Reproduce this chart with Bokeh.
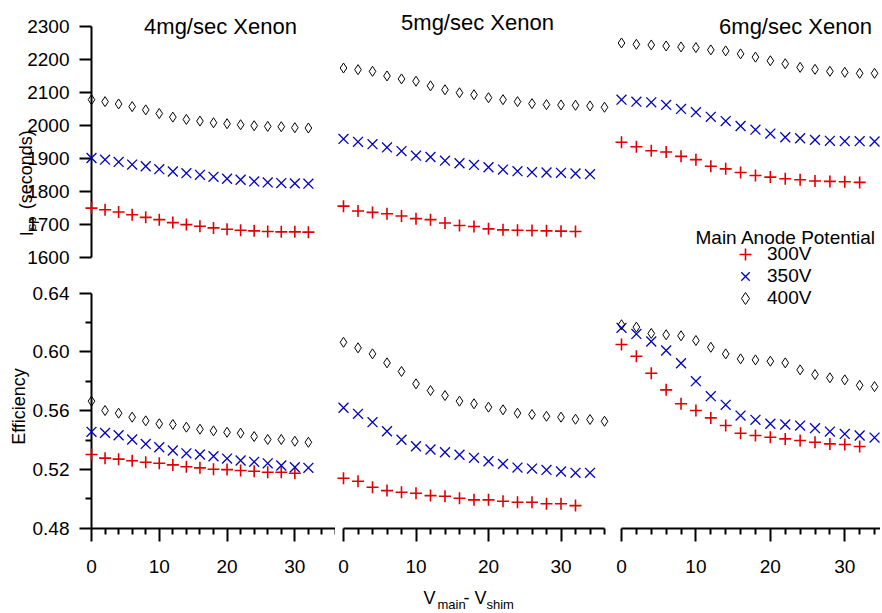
import math
from bokeh.plotting import figure
from bokeh.layouts import column, row
from bokeh.models import Range1d, FixedTicker, NumeralTickFormatter, Label, Legend, LegendItem
from bokeh.core.properties import value
from bokeh.embed import file_html
from bokeh.resources import INLINE

# ---------------- data ----------------
titles = ["4mg/sec Xenon", "5mg/sec Xenon", "6mg/sec Xenon"]
series_labels = ["300V", "350V", "400V"]
legend_title = "Main Anode Potential"

x_0_30 = [0, 2, 4, 6, 8, 10, 12, 14, 16, 18, 20, 22, 24, 26, 28, 30]
x_0_32 = [0, 2, 4, 6, 8, 10, 12, 14, 16, 18, 20, 22, 24, 26, 28, 30, 32]
x_0_34 = [0, 2, 4, 6, 8, 10, 12, 14, 16, 18, 20, 22, 24, 26, 28, 30, 32, 34]
x_0_36 = [0, 2, 4, 6, 8, 10, 12, 14, 16, 18, 20, 22, 24, 26, 28, 30, 32, 34, 36]

# 4 mg/sec
isp4_300 = [1749, 1744, 1737, 1729, 1721, 1714, 1705, 1699, 1694, 1689, 1685, 1682, 1680, 1678, 1677, 1677, 1676]
isp4_350 = [1901, 1896, 1889, 1881, 1876, 1867, 1860, 1855, 1850, 1844, 1838, 1835, 1830, 1827, 1825, 1824, 1823]
isp4_400 = [2078, 2072, 2065, 2057, 2047, 2036, 2025, 2018, 2013, 2008, 2005, 2002, 1999, 1997, 1996, 1993, 1992]
eff4_300 = [0.5302, 0.5277, 0.5270, 0.5259, 0.5249, 0.5242, 0.5231, 0.5218, 0.5211, 0.5201, 0.5199, 0.5193, 0.5188, 0.5181, 0.5181, 0.5174]
eff4_350 = [0.5456, 0.5449, 0.5433, 0.5404, 0.5374, 0.5351, 0.5329, 0.5310, 0.5302, 0.5290, 0.5274, 0.5261, 0.5252, 0.5242, 0.5227, 0.5215, 0.5211]
eff4_400 = [0.5665, 0.5601, 0.5583, 0.5556, 0.5531, 0.5511, 0.5506, 0.5488, 0.5474, 0.5463, 0.5453, 0.5447, 0.5424, 0.5404, 0.5404, 0.5392, 0.5385]

# 5 mg/sec
isp5_300 = [1755, 1740, 1736, 1732, 1725, 1717, 1714, 1704, 1696, 1693, 1686, 1683, 1682, 1681, 1680, 1679, 1678]
isp5_350 = [1959, 1950, 1943, 1933, 1922, 1908, 1904, 1893, 1885, 1880, 1873, 1866, 1861, 1858, 1857, 1856, 1854, 1852]
isp5_400 = [2174, 2169, 2164, 2150, 2141, 2134, 2120, 2108, 2099, 2093, 2084, 2078, 2072, 2066, 2063, 2062, 2061, 2059, 2055]
eff5_300 = [0.5140, 0.5120, 0.5079, 0.5056, 0.5045, 0.5038, 0.5022, 0.5018, 0.5004, 0.4993, 0.4993, 0.4984, 0.4977, 0.4977, 0.4966, 0.4966, 0.4954]
eff5_350 = [0.5620, 0.5579, 0.5522, 0.5460, 0.5402, 0.5358, 0.5336, 0.5317, 0.5300, 0.5279, 0.5256, 0.5238, 0.5213, 0.5206, 0.5197, 0.5186, 0.5177, 0.5177]
eff5_400 = [0.6066, 0.6028, 0.5987, 0.5926, 0.5867, 0.5783, 0.5737, 0.5703, 0.5665, 0.5647, 0.5624, 0.5606, 0.5583, 0.5574, 0.5562, 0.5556, 0.5542, 0.5540, 0.5528]

# 6 mg/sec
isp6_300 = [1949, 1935, 1923, 1919, 1906, 1896, 1876, 1868, 1857, 1848, 1843, 1838, 1835, 1831, 1830, 1829, 1827]
isp6_350 = [2078, 2072, 2070, 2062, 2050, 2040, 2026, 2013, 1998, 1987, 1975, 1964, 1961, 1956, 1953, 1952, 1952, 1951]
isp6_400 = [2250, 2246, 2244, 2241, 2238, 2236, 2229, 2226, 2217, 2207, 2196, 2187, 2176, 2170, 2164, 2161, 2158, 2158]
eff6_300 = [0.6051, 0.5971, 0.5855, 0.5742, 0.5647, 0.5601, 0.5551, 0.5499, 0.5447, 0.5431, 0.5419, 0.5408, 0.5397, 0.5385, 0.5374, 0.5370, 0.5356]
eff6_350 = [0.6164, 0.6123, 0.6071, 0.6010, 0.5923, 0.5801, 0.5699, 0.5640, 0.5567, 0.5538, 0.5511, 0.5506, 0.5499, 0.5481, 0.5458, 0.5442, 0.5431, 0.5417]
eff6_400 = [0.6185, 0.6169, 0.6126, 0.6117, 0.6110, 0.6078, 0.6032, 0.5987, 0.5953, 0.5946, 0.5937, 0.5926, 0.5878, 0.5846, 0.5824, 0.5810, 0.5773, 0.5764]

isp_ticks = [1600, 1700, 1800, 1900, 2000, 2100, 2200, 2300]
eff_ticks = [0.48, 0.52, 0.56, 0.60, 0.64]
eff_minor = [0.50, 0.54, 0.58, 0.62]
x_ticks = [0, 10, 20, 30]
x_minor = [2, 4, 6, 8, 12, 14, 16, 18, 22, 24, 26, 28, 32, 34, 36]

top_sets = [
    [(x_0_32, isp4_300), (x_0_32, isp4_350), (x_0_32, isp4_400)],
    [(x_0_32, isp5_300), (x_0_34, isp5_350), (x_0_36, isp5_400)],
    [(x_0_32, isp6_300), (x_0_34, isp6_350), (x_0_34, isp6_400)],
]
bot_sets = [
    [(x_0_30, eff4_300), (x_0_32, eff4_350), (x_0_32, eff4_400)],
    [(x_0_32, eff5_300), (x_0_34, eff5_350), (x_0_36, eff5_400)],
    [(x_0_32, eff6_300), (x_0_34, eff6_350), (x_0_34, eff6_400)],
]

# ---------------- style / layout ----------------
FONT = "Liberation Sans"
RED = "#e00000"
BLUE = "#0000c0"
BLACK = "#000000"

widths = [335, 277, 268]
bl = [91, 8, 9]
br = [0, 8, 0]
xranges = [(0, 36), (0, 36), (0, 34.8)]
# frames are stretched over the gaps (axes limited with bounds);
# the split between upper and lower figure differs per column
top_h = [284, 284, 314]
top_ranges = [(1517.2, 2378.9), (1517.2, 2378.9), (1426.1, 2378.9)]
bot_h = [328, 328, 298]
bot_ranges = [(0.4798, 0.64592), (0.4798, 0.64592), (0.4798, 0.625498)]
BOT_BB = 84


def style_axis(ax, tick_out, minor_out, standoff):
    ax.axis_line_width = 2
    ax.axis_line_color = "black"
    ax.major_tick_line_width = 2
    ax.major_tick_line_color = "black"
    ax.major_tick_in = 0
    ax.major_tick_out = tick_out
    ax.minor_tick_line_width = 2
    ax.minor_tick_line_color = "black"
    ax.minor_tick_in = 0
    ax.minor_tick_out = minor_out
    ax.major_label_text_font = FONT
    ax.major_label_text_font_size = "19px"
    ax.major_label_text_color = "black"
    ax.major_label_standoff = standoff


def make_fig(i, top):
    h = top_h[i] if top else bot_h[i]
    bb = 0 if top else BOT_BB
    yr = top_ranges[i] if top else bot_ranges[i]
    p = figure(width=widths[i], height=h,
               x_range=Range1d(*xranges[i]), y_range=Range1d(*yr),
               x_axis_location=None if top else "below",
               y_axis_location="left" if i == 0 else None,
               min_border_left=bl[i], min_border_right=br[i],
               min_border_top=0, min_border_bottom=bb,
               output_backend="svg", toolbar_location=None)
    p.outline_line_color = None
    p.background_fill_color = "white"
    p.border_fill_color = "white"
    for g in p.grid:
        g.visible = False
    if not top:
        ax = p.xaxis[0]
        ax.ticker = FixedTicker(ticks=x_ticks, minor_ticks=x_minor)
        style_axis(ax, 13, 6, 18)
    if i == 0:
        ay = p.yaxis[0]
        if top:
            ay.ticker = FixedTicker(ticks=isp_ticks)
            ay.bounds = (isp_ticks[0], isp_ticks[-1])
        else:
            ay.ticker = FixedTicker(ticks=eff_ticks, minor_ticks=eff_minor)
            ay.formatter = NumeralTickFormatter(format="0.00")
            ay.bounds = (eff_ticks[0], eff_ticks[-1])
        style_axis(ay, 12, 6, 10)
    sets = top_sets[i] if top else bot_sets[i]
    r1 = p.scatter(sets[0][0], sets[0][1], marker="cross", size=12,
                   line_color=RED, line_width=1.6, level="overlay")
    r2 = p.scatter(sets[1][0], sets[1][1], marker="x", size=14,
                   line_color=BLUE, line_width=1.3, level="overlay")
    r3 = p.scatter(sets[2][0], sets[2][1], marker="diamond", size=10,
                   line_color=BLACK, fill_color=None, line_width=1, level="overlay")
    return p, (r1, r2, r3)


def lab(p, text, x, y, size="19px", align="left", angle=0.0):
    p.add_layout(Label(x=x, y=y, x_units="screen", y_units="screen", text=text,
                       text_font=FONT, text_font_size=size, text_color="black",
                       text_align=align, text_baseline="alphabetic", angle=angle))


def outer_text(p, ax, ay, text, dx, dy, size, angle=0.0):
    # text anchored at an axis corner, displaced in pixels outside the frame
    p.text(x=[ax], y=[ay], text=[text], x_offset=dx, y_offset=dy, angle=angle,
           text_font=value(FONT), text_font_size=value(size), text_color="black",
           text_align="left", text_baseline="alphabetic", level="overlay")


tops = [make_fig(i, True) for i in range(3)]
bots = [make_fig(i, False) for i in range(3)]

# panel titles (inside the stretched top frames)
title_pos = [(129, 258), (134, 262), (174, 288)]
for (p, _), t, (tx, ty) in zip(tops, titles, title_pos):
    lab(p, t, tx, ty, size="22px", align="center")

# y axis labels
p1 = tops[0][0]
outer_text(p1, xranges[0][0], isp_ticks[0], "I", -65, -21, "18px", math.pi / 2)
outer_text(p1, xranges[0][0], isp_ticks[0], "sp", -60, -27, "13px", math.pi / 2)
outer_text(p1, xranges[0][0], isp_ticks[0], "(seconds)", -66, -48, "18px", math.pi / 2)

p4 = bots[0][0]
p4.yaxis[0].axis_label = "Efficiency"
p4.yaxis[0].axis_label_text_font = FONT
p4.yaxis[0].axis_label_text_font_size = "18px"
p4.yaxis[0].axis_label_text_font_style = "normal"
p4.yaxis[0].axis_label_text_color = "black"
p4.yaxis[0].axis_label_standoff = 1

# x axis label (middle panel)
p5 = bots[1][0]
outer_text(p5, xranges[1][0], eff_ticks[0], "V", 80, 70, "18px")
outer_text(p5, xranges[1][0], eff_ticks[0], "main", 94, 76, "13px")
outer_text(p5, xranges[1][0], eff_ticks[0], "- V", 120, 70, "18px")
outer_text(p5, xranges[1][0], eff_ticks[0], "shim", 143, 76, "13px")

# legend: all rows inside the (taller) upper right-hand frame
p3, rt = tops[2]
lab(p3, legend_title, 74, 77, size="19px")


def make_legend(items, loc):
    return Legend(items=items, location=loc, orientation="vertical",
                  border_line_color=None, background_fill_alpha=0,
                  padding=0, margin=0, spacing=0,
                  glyph_width=30, glyph_height=30, label_height=22,
                  label_standoff=7, label_text_font=FONT,
                  label_text_font_size="19px", label_text_color="black")


p3.add_layout(make_legend([LegendItem(label=series_labels[0], renderers=[rt[0]])], (109, 45)))
p3.add_layout(make_legend([LegendItem(label=series_labels[1], renderers=[rt[1]])], (109, 23)))
p3.add_layout(make_legend([LegendItem(label=series_labels[2], renderers=[rt[2]])], (109, 1)))

layout = row(*[column(tops[i][0], bots[i][0]) for i in range(3)])

open("out.html", "w").write(file_html(layout, INLINE))
